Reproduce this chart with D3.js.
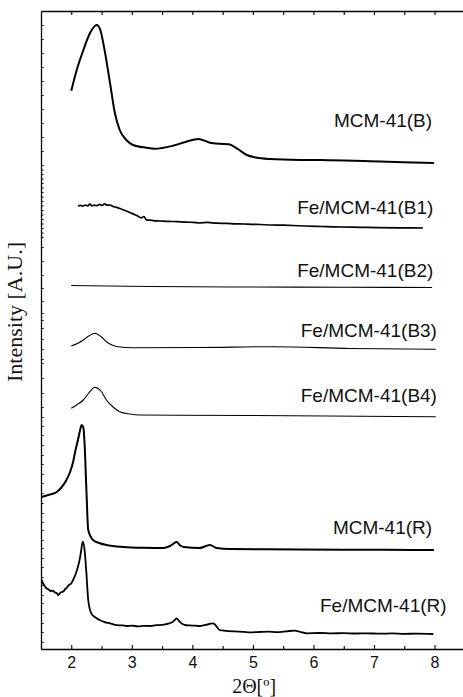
<!DOCTYPE html>
<html><head><meta charset="utf-8">
<script src="https://cdn.jsdelivr.net/npm/d3@7"></script>
<style>
html,body{margin:0;padding:0;background:#fff;}
svg{display:block;}
</style></head>
<body>
<script>
// ---- data (2θ in degrees, intensity in arbitrary counts incl. stacking offset) ----
const seriesNames = ["MCM-41(B)","Fe/MCM-41(B1)","Fe/MCM-41(B2)","Fe/MCM-41(B3)","Fe/MCM-41(B4)","MCM-41(R)","Fe/MCM-41(R)"];

const mcmB = [[2.00,5583],[2.09,5790],[2.20,5990],[2.31,6160],[2.42,6240],[2.48,6190],[2.55,5990],[2.64,5660],[2.72,5360],[2.80,5190],[2.91,5090],[3.02,5040],[3.24,5013],[3.38,5003],[3.68,5033],[3.90,5073],[4.10,5100],[4.29,5063],[4.45,5052],[4.60,5048],[4.75,5000],[4.90,4940],[5.05,4915],[5.28,4900],[5.78,4890],[6.27,4888],[7.10,4875],[7.99,4860]];

const feB1 = [[2.11,4430],[2.15,4436],[2.19,4428],[2.23,4440],[2.27,4432],[2.31,4450],[2.34,4430],[2.38,4438],[2.42,4433],[2.47,4446],[2.51,4435],[2.55,4452],[2.59,4438],[2.64,4440],[2.69,4425],[2.75,4416],[2.83,4398],[2.91,4380],[3.00,4356],[3.08,4334],[3.16,4312],[3.20,4325],[3.24,4292],[3.30,4288],[3.38,4282],[3.46,4280],[3.60,4276],[3.75,4274],[3.90,4268],[4.01,4267],[4.12,4260],[4.25,4266],[4.40,4258],[4.57,4256],[4.70,4252],[4.85,4250],[5.00,4246],[5.12,4245],[5.30,4240],[5.50,4238],[5.66,4235],[5.85,4230],[6.05,4226],[6.22,4224],[6.45,4220],[6.77,4217],[7.05,4214],[7.40,4212],[7.81,4210]];

const feB2 = [[2.00,3635],[2.60,3630],[3.30,3625],[4.95,3620],[6.50,3618],[7.96,3615]];

const feB3 = [[2.00,3030],[2.10,3055],[2.20,3090],[2.29,3130],[2.39,3157],[2.49,3125],[2.58,3073],[2.67,3040],[2.77,3023],[3.02,3013],[4.12,3015],[5.33,3023],[6.60,3005],[8.02,2997]];

const feB4 = [[2.00,2407],[2.10,2445],[2.20,2490],[2.29,2560],[2.39,2617],[2.49,2580],[2.58,2490],[2.69,2420],[2.80,2373],[2.97,2350],[3.13,2340],[4.95,2335],[8.02,2323]];

const mcmR = [[1.51,1520],[1.65,1545],[1.76,1570],[1.83,1610],[1.92,1690],[1.98,1770],[2.03,1870],[2.07,1990],[2.11,2090],[2.15,2200],[2.17,2240],[2.20,2215],[2.22,2050],[2.25,1590],[2.28,1190],[2.36,1090],[2.46,1060],[2.58,1040],[2.86,1020],[3.20,1012],[3.52,1010],[3.63,1030],[3.74,1070],[3.80,1035],[3.86,1020],[4.12,1010],[4.29,1040],[4.40,1010],[4.62,1000],[5.20,998],[5.78,995],[6.50,993],[7.20,992],[7.99,990]];

const feR = [[1.51,690],[1.55,640],[1.59,607],[1.62,598],[1.66,580],[1.70,583],[1.73,565],[1.76,560],[1.78,540],[1.81,556],[1.84,570],[1.87,575],[1.90,600],[1.92,607],[1.96,640],[2.00,655],[2.03,690],[2.07,745],[2.11,823],[2.14,900],[2.16,970],[2.19,1073],[2.22,990],[2.25,757],[2.28,490],[2.33,357],[2.40,315],[2.47,290],[2.55,268],[2.64,257],[2.75,238],[2.85,236],[2.91,230],[3.00,234],[3.10,226],[3.20,232],[3.30,230],[3.40,238],[3.50,242],[3.57,250],[3.65,262],[3.71,290],[3.74,307],[3.78,280],[3.83,252],[3.88,240],[3.95,236],[4.05,233],[4.12,230],[4.20,238],[4.28,250],[4.34,257],[4.38,240],[4.45,190],[4.55,182],[4.70,176],[4.85,172],[4.95,167],[5.10,170],[5.25,174],[5.40,168],[5.50,173],[5.60,180],[5.69,183],[5.78,172],[5.89,157],[6.10,160],[6.30,156],[6.50,159],[6.70,155],[6.88,157],[7.10,153],[7.30,156],[7.50,151],[7.70,154],[7.98,150]];

const seriesData = [mcmB, feB1, feB2, feB3, feB4, mcmR, feR];
const seriesWidth = [2, 1.7, 1.1, 1.1, 1.1, 2, 1.8];

const xMajorTicks = [2,3,4,5,6,7,8];
const xMinorTicks = [1.5,2.5,3.5,4.5,5.5,6.5,7.5];
const xTopTicks = [2,2.5,3,3.5,4,4.5,5,5.5,6,6.5,7,7.5,8];
const yTicks = [6240,6100,5960,5820,5680,5540,5400,5260,5120,4980,4840,4795,4750,4705,4660,4615,4570,4525,4480,4435,4390,4345,4300,4255,4210,4165,4120,4020,3880,3740,3610,3480,3360,3290,3210,3100,3000,2900,2860,2710,2560,2420,2320,2230,2140,2040,1940,1850,1750,1660,1560,1460,1360,1270,1190,1090,1010,910,820,720,640,540,460,360,260,170,70];

// label anchor (right end x in 2θ, baseline in counts)
const labelAnchors = [[7.96,5220],[7.98,4350],[7.98,3720],[8.04,3120],[8.04,2470],[7.96,1150],[8.20,370]];

const xTitle = "2Θ[º]";
const yTitle = "Intensity [A.U.]";

// ---- drawing ----
const W = 463, H = 697;
const m = {left:41, right:0, top:11, bottom:48};
const svg = d3.select("body").append("svg").attr("width",W).attr("height",H);

const x = d3.scaleLinear().domain([1.5, 8.47]).range([m.left, W - m.right]);
const y = d3.scaleLinear().domain([0, 6380]).range([H - m.bottom, m.top]);

const sans = "'Liberation Sans', Arial, Helvetica, sans-serif";
const serif = "'Liberation Serif', 'Times New Roman', Times, serif";

// bottom axis major
const gB = svg.append("g").attr("transform",`translate(0,${H - m.bottom})`)
  .call(d3.axisBottom(x).tickValues(xMajorTicks).tickSizeInner(-4).tickSizeOuter(0).tickPadding(8).tickFormat(d3.format("d")));
gB.select(".domain").attr("stroke","#000").attr("stroke-width",1.3);
gB.selectAll(".tick line").attr("stroke","#000").attr("stroke-width",1.1);
gB.selectAll(".tick text").attr("font-family",sans).attr("font-size",16).attr("fill","#111");
// bottom minor
const gBm = svg.append("g").attr("transform",`translate(0,${H - m.bottom})`)
  .call(d3.axisBottom(x).tickValues(xMinorTicks).tickSizeInner(-3).tickSizeOuter(0).tickFormat(""));
gBm.select(".domain").remove();
gBm.selectAll(".tick line").attr("stroke","#000").attr("stroke-width",1.1);

// top axis
const gT = svg.append("g").attr("transform",`translate(0,${m.top})`)
  .call(d3.axisTop(x).tickValues(xTopTicks).tickSizeInner(-4).tickSizeOuter(0).tickFormat(""));
gT.select(".domain").attr("stroke","#000").attr("stroke-width",1.3);
gT.selectAll(".tick line").attr("stroke","#000").attr("stroke-width",1.1);

// left axis
const gL = svg.append("g").attr("transform",`translate(${m.left},0)`)
  .call(d3.axisLeft(y).tickValues(yTicks).tickSizeInner(-2.5).tickSizeOuter(0).tickFormat(""));
gL.select(".domain").attr("stroke","#000").attr("stroke-width",1.3);
gL.selectAll(".tick line").attr("stroke","#000").attr("stroke-width",1);

// curves
const line = d3.line().x(d => x(d[0])).y(d => y(d[1])).curve(d3.curveMonotoneX);
svg.append("g").selectAll("path").data(seriesData).join("path")
  .attr("d", line).attr("fill","none").attr("stroke","#000")
  .attr("stroke-width",(d,i)=>seriesWidth[i]).attr("stroke-linejoin","round");

// labels
svg.append("g").selectAll("text").data(seriesNames).join("text")
  .attr("x",(d,i)=>x(labelAnchors[i][0])).attr("y",(d,i)=>y(labelAnchors[i][1]))
  .attr("text-anchor","end").attr("font-family",sans).attr("font-size",19).attr("fill","#111")
  .text(d=>d);

// axis titles
svg.append("text").attr("x", x(5.02)).attr("y", H - 4).attr("text-anchor","middle")
  .attr("font-family",serif).attr("font-size",20).attr("fill","#111").text(xTitle);
svg.append("text").attr("transform",`translate(22,${y(3370)}) rotate(-90)`).attr("text-anchor","middle")
  .attr("font-family",serif).attr("font-size",22).attr("fill","#111").text(yTitle);
</script>
</body></html>
